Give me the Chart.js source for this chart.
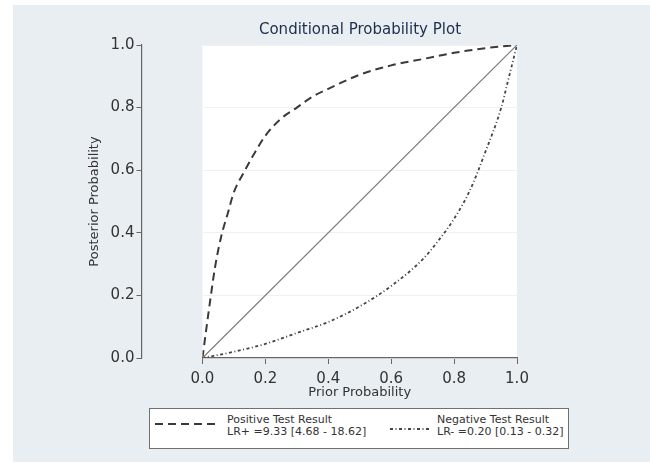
<!DOCTYPE html>
<html>
<head>
<meta charset="utf-8">
<script src="https://cdn.jsdelivr.net/npm/chart.js@4.4.1/dist/chart.umd.min.js"></script>
<style>
  body { margin: 0; background: #fff; }
  #wrap { position: relative; width: 650px; height: 463px; }
  #bg { position: absolute; left: 13px; top: 5px; width: 637px; height: 457px; background: #e9eef2; }
  #myChart { position: absolute; left: 0; top: 0; }
  #title { position: absolute; left: 0; width: 720px; top: 20px; text-align: center;
           font: 15px "DejaVu Sans", sans-serif; color: #22304f; }
  #legend { position: absolute; left: 149px; top: 408px; width: 418px; height: 39px;
            background: #fff; border: 1.5px solid #707070; font: 11px "DejaVu Sans", sans-serif; color: #333; }
  .item { position: absolute; top: 5px; line-height: 11.5px; }
  .sample { position: absolute; }
</style>
</head>
<body>
<div id="wrap">
  <div id="bg"></div>
  <canvas id="myChart" width="650" height="463"></canvas>
  <div id="title">Conditional Probability Plot</div>
  <div id="legend">
    <svg class="sample" style="left:5px;top:12px" width="64" height="6">
      <line x1="0" y1="3" x2="64" y2="3" stroke="#3a3a3a" stroke-width="2" stroke-dasharray="8,5"/>
    </svg>
    <div class="item" style="left:77px">Positive Test Result<br>LR+ =9.33 [4.68 - 18.62]</div>
    <svg class="sample" style="left:240px;top:17px" width="40" height="6">
      <line x1="0" y1="3" x2="40" y2="3" stroke="#444" stroke-width="1.8" stroke-dasharray="3,2.5,1,2.5"/>
    </svg>
    <div class="item" style="left:287px">Negative Test Result<br>LR- =0.20 [0.13 - 0.32]</div>
  </div>
</div>
<script>
// prior probability -> posterior probability
const priorPos = [0, 0.02, 0.04, 0.06, 0.08, 0.10, 0.13, 0.16, 0.20, 0.25, 0.30, 0.35, 0.40, 0.50, 0.60, 0.70, 0.80, 0.90, 1.0];
const postPos  = [0, 0.15, 0.29, 0.39, 0.46, 0.53, 0.59, 0.645, 0.71, 0.765, 0.80, 0.835, 0.86, 0.905, 0.935, 0.955, 0.975, 0.99, 1.0];

const priorNeg = [0, 0.10, 0.20, 0.30, 0.40, 0.50, 0.60, 0.70, 0.75, 0.80, 0.85, 0.90, 0.95, 0.97, 1.0];
const postNeg  = [0, 0.02, 0.045, 0.08, 0.115, 0.165, 0.23, 0.315, 0.375, 0.445, 0.535, 0.66, 0.80, 0.88, 1.0];

const priorRef = [0, 1];
const postRef  = [0, 1];

const tickValues = [0, 0.2, 0.4, 0.6, 0.8, 1.0];

const toPoints = (xs, ys) => xs.map((x, i) => ({ x: x, y: ys[i] }));

// white plot region
const plotBg = {
    id: 'plotBg',
    beforeDraw(chart) {
        const a = chart.chartArea;
        chart.ctx.save();
        chart.ctx.fillStyle = '#ffffff';
        chart.ctx.fillRect(a.left, a.top, a.right - a.left, a.bottom - a.top);
        chart.ctx.restore();
    }
};

const tickFont = { family: 'DejaVu Sans', size: 15 };
const xTickFont = { family: 'DejaVu Sans', size: 15, lineHeight: 0.45 };
const titleFont = { family: 'DejaVu Sans', size: 13 };
const xTitleFont = { family: 'DejaVu Sans', size: 13, lineHeight: 1.0 };

const myChart = new Chart(document.getElementById('myChart'), {
    type: 'scatter',
    data: {
        datasets: [{
            label: 'Reference',
            data: toPoints(priorRef, postRef),
            showLine: true,
            borderColor: '#7a7a7a',
            borderWidth: 1.2,
            pointRadius: 0
        },
        {
            label: 'Positive Test Result',
            data: toPoints(priorPos, postPos),
            showLine: true,
            borderColor: '#3a3a3a',
            borderWidth: 2,
            borderDash: [8, 5],
            cubicInterpolationMode: 'monotone',
            pointRadius: 0
        },
        {
            label: 'Negative Test Result',
            data: toPoints(priorNeg, postNeg),
            showLine: true,
            borderColor: '#444444',
            borderWidth: 1.8,
            borderDash: [3, 2.5, 1, 2.5],
            cubicInterpolationMode: 'monotone',
            pointRadius: 0
        }]
    },
    options: {
        responsive: false,
        animation: false,
        layout: { padding: { left: 87, right: 133, top: 45, bottom: 64 } },
        plugins: {
            legend: { display: false },
            tooltip: { enabled: false }
        },
        scales: {
            x: {
                type: 'linear',
                min: 0,
                max: 1,
                afterBuildTicks: s => { s.ticks = tickValues.map(v => ({ value: v })); },
                afterFit: s => { s.height = 41; },
                ticks: { callback: v => v.toFixed(1), font: xTickFont, color: '#333', padding: 11.6, maxRotation: 0 },
                grid: { drawOnChartArea: false, tickLength: 6, tickColor: '#666' },
                border: { color: '#666', width: 1.2 },
                title: { display: true, text: 'Prior Probability', font: xTitleFont, color: '#333', padding: { top: 0, bottom: 0 } }
            },
            y: {
                type: 'linear',
                position: 'left',
                weight: 10,
                min: 0,
                max: 1,
                afterBuildTicks: s => { s.ticks = tickValues.map(v => ({ value: v })); },
                ticks: { callback: v => v.toFixed(1), font: tickFont, color: '#333', padding: 2 },
                grid: { color: '#eef1f4', tickLength: 5, tickColor: '#666' },
                border: { color: '#666', width: 1.2 },
                title: { display: true, text: 'Posterior Probability', font: titleFont, color: '#333', padding: { top: 0, bottom: 6 } }
            },
            gap: {
                type: 'linear',
                position: 'left',
                weight: 0,
                ticks: { display: false },
                grid: { display: false },
                border: { display: false },
                afterFit: s => { s.width = 61; }
            }
        }
    },
    plugins: [plotBg]
});
</script>
</body>
</html>
